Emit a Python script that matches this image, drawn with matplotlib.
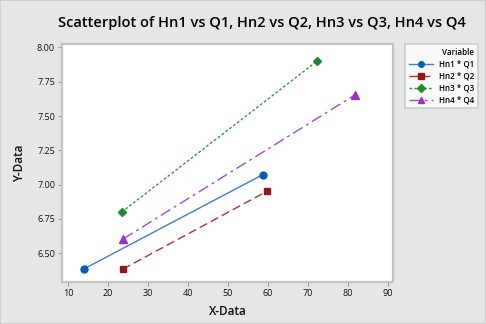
import matplotlib
matplotlib.use("Agg")
import matplotlib.pyplot as plt
from matplotlib.patches import Rectangle

plt.rcParams['font.family'] = ['Open Sans', 'DejaVu Sans']

# Werte
series = ['Hn1 * Q1', 'Hn2 * Q2', 'Hn3 * Q3', 'Hn4 * Q4']
x_vals = [[13.9, 58.7], [23.7, 59.7], [23.4, 72.2], [23.8, 81.7]]
y_vals = [[6.385, 7.073], [6.385, 6.951], [6.80, 7.898], [6.605, 7.653]]

colors = ['#0b5cb0', '#8e1a1a', '#1b8a30', '#9b30c8']
line_colors = ['#3f7fc8', '#a83434', '#2f9a45', '#a548d2']
markers = ['o', 's', 'D', '^']
styles = ['-', (0, (6, 3)), (0, (2, 1.5)), (0, (8, 3, 2, 3))]
msizes = [5, 5, 4.5, 5.5]

fig = plt.figure(figsize=(4.86, 3.24), dpi=100, facecolor='#e6e6e6')
ax = fig.add_axes([0.1276, 0.1296, 0.681, 0.7344])
ax.set_facecolor('white')

for i in range(len(series)):
    ax.plot(x_vals[i], y_vals[i], color=line_colors[i], linestyle=styles[i],
            linewidth=1.0, marker=markers[i], markersize=msizes[i],
            markerfacecolor=colors[i], markeredgecolor=colors[i], label=series[i])

ax.set_xlim(8.5, 91.25)
ax.set_ylim(6.291, 8.024)
ax.set_xticks(range(10, 91, 10))
ax.set_yticks([6.50, 6.75, 7.00, 7.25, 7.50, 7.75, 8.00])
ax.set_yticklabels([f'{v:.2f}' for v in [6.50, 6.75, 7.00, 7.25, 7.50, 7.75, 8.00]])

for s in ax.spines.values():
    s.set_color('#c4c4c4')
    s.set_linewidth(1.6)
ax.tick_params(axis='both', labelsize=6.5, color='#9a9a9a', length=3, width=0.8,
               labelcolor='#111111', pad=2)

ax.set_xlabel('X-Data', fontsize=8.5, labelpad=5, color='#111111', fontweight='semibold')
ax.set_ylabel('Y-Data', fontsize=8.5, labelpad=8, color='#111111', fontweight='semibold')
fig.text(0.538, 0.93, 'Scatterplot of Hn1 vs Q1, Hn2 vs Q2, Hn3 vs Q3, Hn4 vs Q4',
         ha='center', va='center', fontsize=10.5, color='#000000', fontweight='semibold')

leg = ax.legend(loc='upper left', bbox_to_anchor=(1.035, 1.0), title='Variable',
                fontsize=5.8, title_fontsize=5.8, frameon=True, fancybox=False,
                borderpad=0.5, handlelength=3.0, labelspacing=0.35, handletextpad=0.8,
                borderaxespad=0, markerscale=0.8)
leg.get_frame().set_edgecolor('#c4c4c4')
leg.get_frame().set_linewidth(1.2)
leg._legend_box.align = 'right'
for t in leg.get_texts():
    t.set_fontweight('semibold')
leg.get_title().set_fontweight('semibold')

fig.patches.append(Rectangle((0, 0), 1, 1, transform=fig.transFigure, fill=False,
                             edgecolor='#cfcfcf', linewidth=1.5))

fig.savefig('out.png', dpi=100, facecolor=fig.get_facecolor())
